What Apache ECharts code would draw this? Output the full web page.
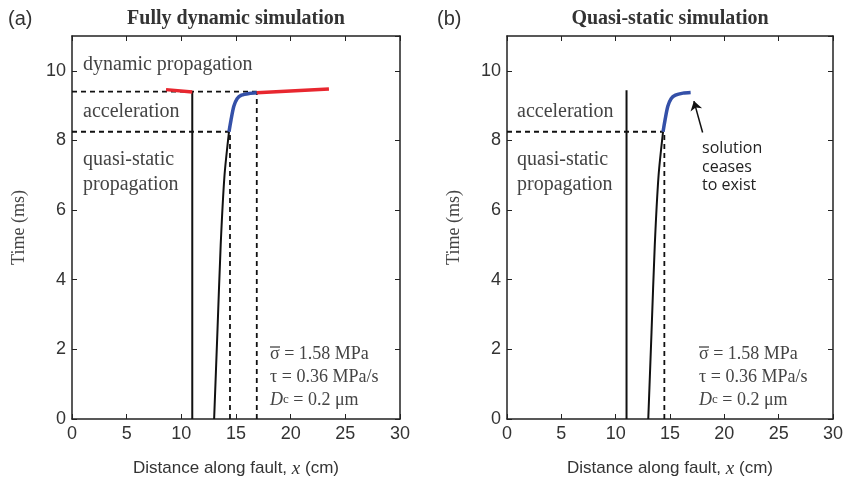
<!DOCTYPE html>
<html>
<head>
<meta charset="utf-8">
<script src="https://cdn.jsdelivr.net/npm/echarts@6/dist/echarts.min.js"></script>
<style>
  html, body { margin: 0; padding: 0; background: #fff; }
  #chart { width: 845px; height: 484px; }
</style>
</head>
<body>
<div id="chart"></div>
<script>
// 坐标轴范围
const xRange = [0, 30]
const yRange = [0, 11]

// (a) fully dynamic simulation
const aStrike = [[11.0, 0], [11.0, 9.4]]
const aQuasi = [[13.0, 0], [13.3, 2.5], [13.6, 5], [13.95, 7], [14.36, 8.25]]
const aAccel = [[14.36, 8.25], [14.55, 8.6], [14.8, 8.98], [15.1, 9.2], [15.5, 9.3], [16.2, 9.35], [16.9, 9.37]]
const aDynLeft = [[8.6, 9.46], [11.0, 9.39]]
const aDynRight = [[16.9, 9.37], [23.5, 9.48]]
const aGuides = [
  [[0, 9.4], [16.9, 9.4]],
  [[0, 8.25], [14.36, 8.25]],
  [[14.45, 0], [14.45, 8.25]],
  [[16.9, 0], [16.9, 9.4]],
]

// (b) quasi-static simulation
const bStrike = [[11.0, 0], [11.0, 9.44]]
const bQuasi = [[13.0, 0], [13.3, 2.5], [13.6, 5], [13.95, 7], [14.36, 8.25]]
const bAccel = [[14.36, 8.25], [14.55, 8.6], [14.8, 8.98], [15.1, 9.2], [15.5, 9.3], [16.2, 9.36], [16.9, 9.38]]
const bGuides = [
  [[0, 8.25], [14.36, 8.25]],
  [[14.48, 0], [14.48, 8.25]],
]
const bArrow = [[18.0, 8.23], [17.2, 9.13]]

const SERIF = 'Liberation Serif'
const SANS = 'Liberation Sans'
const INK = '#222'

const chart = echarts.init(document.getElementById('chart'))

function axisBase(extra) {
  return Object.assign({
    type: 'value',
    axisLine: { show: true, onZero: false, lineStyle: { color: INK, width: 1.5 } },
    axisTick: { show: true, inside: true, length: 5, lineStyle: { color: INK, width: 1 } },
    splitLine: { show: false },
  }, extra)
}

function xAxes(gi) {
  return [
    axisBase({
      gridIndex: gi, position: 'bottom', min: xRange[0], max: xRange[1], interval: 5,
      axisLabel: { color: '#333', fontFamily: SANS, fontSize: 18, margin: 6 },
      name: '{a|Distance along fault, }{b|x}{a| (cm)}',
      nameLocation: 'middle', nameGap: 40,
      nameTextStyle: {
        rich: {
          a: { fontFamily: SANS, fontSize: 17, color: '#333' },
          b: { fontFamily: SERIF, fontStyle: 'italic', fontSize: 19, color: '#333' },
        },
      },
    }),
    axisBase({
      gridIndex: gi, position: 'top', min: xRange[0], max: xRange[1], interval: 5,
      axisLabel: { show: false },
    }),
  ]
}

function yAxes(gi) {
  return [
    axisBase({
      gridIndex: gi, position: 'left', min: yRange[0], max: yRange[1], interval: 2,
      axisLabel: { color: '#333', fontFamily: SANS, fontSize: 18, margin: 6, showMaxLabel: false },
      name: 'Time (ms)', nameLocation: 'middle', nameGap: 44,
      nameTextStyle: { fontFamily: SERIF, fontSize: 18, color: '#444' },
    }),
    axisBase({
      gridIndex: gi, position: 'right', min: yRange[0], max: yRange[1], interval: 2,
      axisLabel: { show: false },
    }),
  ]
}

function line(gi, data, color, width, dashed) {
  return {
    type: 'line',
    xAxisIndex: gi * 2,
    yAxisIndex: gi * 2,
    data: data,
    showSymbol: false,
    symbol: 'none',
    smooth: dashed ? false : 0.25,
    silent: true,
    animation: false,
    lineStyle: { color: color, width: width, type: dashed ? [5, 4] : 'solid' },
  }
}

const series = []
aGuides.forEach(g => series.push(line(0, g, '#111', 1.8, true)))
series.push(line(0, aStrike, '#111', 2))
series.push(line(0, aQuasi, '#111', 2))
series.push(line(0, aAccel, '#3450a8', 3.5))
series.push(line(0, aDynLeft, '#e8272f', 3.5))
series.push(line(0, aDynRight, '#e8272f', 3.5))

bGuides.forEach(g => series.push(line(1, g, '#111', 1.8, true)))
series.push(line(1, bStrike, '#111', 2))
series.push(line(1, bQuasi, '#111', 2))
const bAccelSeries = line(1, bAccel, '#3450a8', 3.5)
// 箭头指向曲线终点
bAccelSeries.markLine = {
  silent: true,
  animation: false,
  symbol: ['none', 'arrow'],
  symbolSize: 9,
  label: { show: false },
  lineStyle: { color: '#111', width: 1.5, type: 'solid' },
  data: [[{ coord: bArrow[0] }, { coord: bArrow[1] }]],
}
series.push(bAccelSeries)

function txt(x, y, text, size, extra) {
  return {
    type: 'text', x: x, y: y, silent: true,
    style: Object.assign({
      text: text, fontFamily: SERIF, fontSize: size || 20, fill: '#444',
      verticalAlign: 'middle', align: 'left',
    }, extra || {}),
  }
}

function params(x, y0) {
  return [
    txt(x, y0, '\u03C3 = 1.58 MPa', 18),
    // σ 上的横线
    { type: 'line', silent: true, shape: { x1: x, y1: y0 - 7, x2: x + 10, y2: y0 - 7 }, style: { stroke: '#444', lineWidth: 1.3 } },
    txt(x, y0 + 23, '\u03C4 = 0.36 MPa/s', 18),
    {
      type: 'text', x: x, y: y0 + 46, silent: true,
      style: {
        text: '{d|D}{c|c}{r| = 0.2 \u03BCm}',
        verticalAlign: 'middle', align: 'left',
        rich: {
          d: { fontFamily: SERIF, fontStyle: 'italic', fontSize: 18, fill: '#444' },
          c: { fontFamily: SERIF, fontSize: 13, fill: '#444' },
          r: { fontFamily: SERIF, fontSize: 18, fill: '#444' },
        },
      },
    },
  ]
}

const graphics = [
  txt(8, 19, '(a)', 20, { fontFamily: SANS, fill: '#333' }),
  txt(236, 19, 'Fully dynamic simulation', 20, { fontWeight: 'bold', fill: '#333', align: 'center' }),
  txt(437, 19, '(b)', 20, { fontFamily: SANS, fill: '#333' }),
  txt(670, 19, 'Quasi-static simulation', 20, { fontWeight: 'bold', fill: '#333', align: 'center' }),

  txt(83, 65, 'dynamic propagation'),
  txt(83, 112, 'acceleration'),
  txt(83, 160, 'quasi-static'),
  txt(83, 185, 'propagation'),

  txt(517, 112, 'acceleration'),
  txt(517, 160, 'quasi-static'),
  txt(517, 185, 'propagation'),

  txt(702, 148, 'solution', 16, { fontFamily: 'Open Sans', fill: '#222' }),
  txt(702, 167, 'ceases', 16, { fontFamily: 'Open Sans', fill: '#222' }),
  txt(702, 185, 'to exist', 16, { fontFamily: 'Open Sans', fill: '#222' }),
].concat(params(270, 354), params(699, 354))

const option = {
  backgroundColor: '#fff',
  animation: false,
  grid: [
    { left: 72, right: 445, top: 36, bottom: 65, outerBoundsMode: 'none' },
    { left: 507, right: 12, top: 36, bottom: 65, outerBoundsMode: 'none' },
  ],
  xAxis: xAxes(0).concat(xAxes(1)),
  yAxis: yAxes(0).concat(yAxes(1)),
  series: series,
  graphic: graphics,
}

// 轴索引：每个 grid 有两个 x 轴、两个 y 轴
option.xAxis.forEach((a, i) => { a.gridIndex = Math.floor(i / 2) })
option.yAxis.forEach((a, i) => { a.gridIndex = Math.floor(i / 2) })

chart.setOption(option)
</script>
</body>
</html>
